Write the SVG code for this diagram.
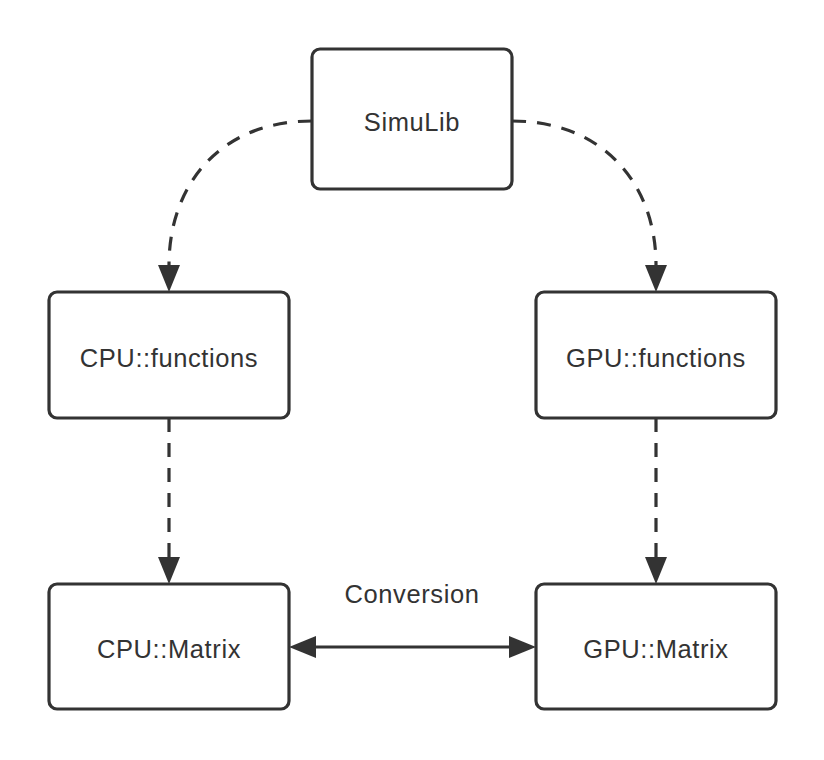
<svg xmlns="http://www.w3.org/2000/svg" width="824" height="760" viewBox="0 0 824 760">
<style>
.box{fill:#fff;stroke:#333;stroke-width:3.2}
.lbl{font-family:"Liberation Sans",Arial,sans-serif;font-size:25.5px;letter-spacing:0.6px;fill:#333;text-anchor:middle}
.con{fill:none;stroke:#333;stroke-width:3.2}
.dash{stroke-dasharray:14 11}
</style>
<defs>
<marker id="ah" markerUnits="userSpaceOnUse" markerWidth="28" markerHeight="22" refX="0" refY="11" orient="auto-start-reverse" viewBox="0 0 28 22">
<path d="M0,0 L27,11 L0,22 z" fill="#333"/>
</marker>
</defs>
<rect width="824" height="760" fill="#fff"/>
<g id="connectors">
<path class="con dash" d="M312,121 C220,121 169,185 169,265" marker-end="url(#ah)"/>
<path class="con dash" d="M512,121 C604,121 656,185 656,265" marker-end="url(#ah)"/>
<path class="con dash" d="M169,418 L169,557" marker-end="url(#ah)"/>
<path class="con dash" d="M656,418 L656,557" marker-end="url(#ah)"/>
<path class="con" d="M316,647 L509,647" marker-start="url(#ah)" marker-end="url(#ah)"/>
<text class="lbl" x="412" y="603">Conversion</text>
</g>
<g id="simulib">
<rect class="box" x="312" y="49" width="200" height="140" rx="8"/>
<text class="lbl" x="412" y="131">SimuLib</text>
</g>
<g id="cpu-functions">
<rect class="box" x="49" y="292" width="240" height="126" rx="8"/>
<text class="lbl" x="169" y="367">CPU::functions</text>
</g>
<g id="gpu-functions">
<rect class="box" x="536" y="292" width="240" height="126" rx="8"/>
<text class="lbl" x="656" y="367">GPU::functions</text>
</g>
<g id="cpu-matrix">
<rect class="box" x="49" y="584" width="240" height="125" rx="8"/>
<text class="lbl" x="169" y="658">CPU::Matrix</text>
</g>
<g id="gpu-matrix">
<rect class="box" x="536" y="584" width="240" height="125" rx="8"/>
<text class="lbl" x="656" y="658">GPU::Matrix</text>
</g>
</svg>
